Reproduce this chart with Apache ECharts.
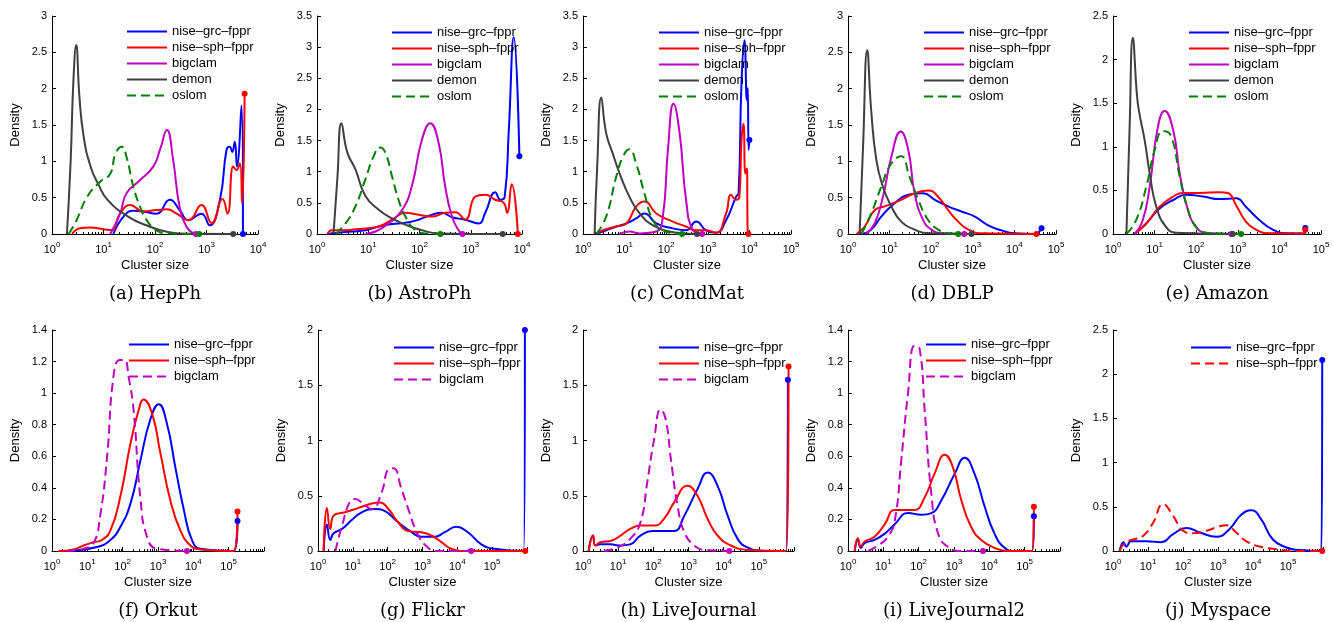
<!DOCTYPE html>
<html>
<head>
<meta charset="utf-8">
<script src="https://cdn.jsdelivr.net/npm/echarts@6/dist/echarts.min.js"></script>
<style>
html, body { margin: 0; padding: 0; background: #fff; }
#main { width: 1333px; height: 622px; }
</style>
</head>
<body>
<div id="main"></div>
<script>
// each point is [cluster size, density]

// (a) HepPh
var hepphGrc = [[15.5,0],[24.5,0.24],[38,0.32],[59,0.31],[107,0.28],[195,0.47],[300,0.33],[445,0.19],[800,0.28],[1150,0.12],[1820,0.47],[2450,1.16],[2830,1.2],[3150,1.13],[3540,1.27],[3900,0.93],[4780,1.77],[5100,0]];
var hepphSph = [[2.45,0],[3.5,0.08],[5.5,0.09],[10,0.065],[14.5,0.055],[21,0.28],[33,0.4],[59,0.31],[107,0.33],[170,0.34],[263,0.28],[445,0.19],[800,0.4],[1260,0.15],[2040,0.48],[2560,0.28],[3300,0.93],[3800,0.88],[4450,0.97],[4900,0.42],[5500,1.93]];
var hepphBigclam = [[13.5,0],[21,0.28],[28,0.56],[51,0.74],[93,0.93],[125,1.16],[170,1.43],[225,1.02],[300,0.38],[410,0.1],[550,0.01],[620,0]];
var hepphDemon = [[1.95,0],[2.3,1.0],[2.6,2.1],[2.95,2.6],[3.4,1.9],[4.1,1.35],[5.6,0.93],[8,0.68],[12,0.47],[30,0.24],[80,0.1],[170,0.03],[350,0.003],[3300,0]];
var hepphOslom = [[2.1,0],[3.0,0.19],[4.8,0.51],[8.6,0.72],[13.5,0.83],[17,1.1],[22.6,1.2],[28,1.06],[38,0.65],[51,0.38],[69,0.19],[107,0.05],[170,0.01],[720,0]];

// (b) AstroPh
var astroGrc = [[1.6,0],[2.6,0.02],[4.8,0.04],[8.8,0.06],[16,0.12],[29,0.16],[53,0.18],[96,0.23],[175,0.31],[275,0.34],[430,0.27],[780,0.23],[1420,0.17],[1920,0.34],[3000,0.67],[3800,0.55],[4600,0.6],[5500,1.63],[6900,3.16],[8900,1.25]];
var astroSph = [[1.6,0],[1.95,0.06],[3.1,0.06],[4.8,0.07],[8.8,0.09],[16,0.12],[29,0.23],[53,0.34],[96,0.31],[175,0.28],[316,0.34],[500,0.35],[780,0.23],[1230,0.6],[1920,0.63],[3000,0.55],[4400,0.5],[5100,0.34],[6300,0.8],[8300,0]];
var astroBigclam = [[8.8,0],[13.8,0.04],[25,0.17],[46,0.39],[71,0.77],[112,1.52],[162,1.78],[235,1.47],[316,0.77],[430,0.28],[580,0.06],[690,0]];
var astroDemon = [[2.1,0],[2.5,0.9],[3.0,1.78],[3.9,1.31],[5.6,1.04],[8.8,0.61],[16,0.39],[29,0.25],[53,0.15],[112,0.06],[235,0.01],[4200,0]];
var astroOslom = [[2.3,0],[3.6,0.17],[5.6,0.44],[8.8,0.88],[12.8,1.25],[17,1.39],[21.5,1.31],[29,0.93],[39,0.55],[53,0.28],[83,0.06],[130,0.01],[255,0]];

// (c) CondMat
var condGrc = [[2.1,0],[3.6,0.06],[6.3,0.12],[11,0.17],[19,0.25],[30,0.33],[58,0.17],[145,0.09],[300,0.06],[525,0.2],[910,0.06],[1580,0.02],[2750,0.22],[4800,0.6],[5500,0.65],[6450,2.42],[7600,3.11],[8700,2.15],[9100,2.34],[9600,1.35],[10000,1.51]];
var condSph = [[2.1,0],[3.0,0.06],[6.3,0.12],[11,0.17],[19,0.44],[30,0.52],[58,0.33],[145,0.2],[300,0.12],[525,0.06],[910,0.06],[1580,0.02],[2750,0.33],[3600,0.63],[4800,0.55],[5750,0.6],[6450,1.5],[7200,1.77],[8000,0.97],[8700,1.05],[9100,0.01],[9500,0]];
var condBigclam = [[7.6,0],[13,0.04],[23,0.01],[58,0.04],[83,0.28],[110,1.35],[150,2.09],[210,1.62],[300,0.55],[440,0.06],[730,0]];
var condDemon = [[1.9,0],[2.2,1.1],[2.75,2.19],[3.6,1.62],[5.2,1.29],[7.6,0.97],[13,0.6],[23,0.33],[48,0.14],[120,0.04],[300,0.01],[550,0]];
var condOslom = [[2.1,0],[3.6,0.28],[6.3,0.92],[9.1,1.24],[13,1.36],[19,1.13],[30,0.65],[48,0.22],[83,0.06],[145,0.01],[240,0]];

// (d) DBLP
var dblpGrc = [[2.1,0],[3.6,0.06],[6.3,0.24],[13,0.42],[28,0.54],[64,0.56],[123,0.47],[255,0.38],[535,0.31],[1120,0.24],[2350,0.12],[4900,0.05],[10000,0.01],[31000,0],[45000,0.08]];
var dblpSph = [[1.6,0],[2.5,0.1],[4.4,0.33],[7.6,0.38],[19,0.47],[40,0.56],[85,0.6],[148,0.51],[255,0.33],[445,0.17],[780,0.06],[1620,0.01],[34000,0]];
var dblpBigclam = [[2.75,0],[4.4,0.15],[6.9,0.51],[11,1.06],[18.5,1.41],[28,1.16],[40,0.56],[64,0.19],[102,0.06],[178,0.01],[620,0]];
var dblpDemon = [[1.9,0],[2.3,1.2],[2.9,2.53],[3.6,1.71],[4.8,1.02],[6.9,0.65],[11,0.38],[19,0.17],[40,0.06],[85,0.01],[930,0]];
var dblpOslom = [[2.1,0],[3.6,0.28],[6.3,0.65],[11,0.97],[19,1.07],[30,0.79],[49,0.47],[85,0.19],[148,0.06],[255,0.01],[445,0]];

// (e) Amazon
var amazonGrc = [[3.3,0],[6.3,0.12],[13,0.29],[28,0.39],[58,0.45],[145,0.43],[363,0.4],[910,0.41],[1580,0.31],[3300,0.16],[6900,0.05],[14500,0.01],[40000,0.005],[42000,0.07]];
var amazonSph = [[3.3,0],[6.3,0.12],[13,0.31],[28,0.43],[48,0.47],[120,0.47],[363,0.48],[575,0.47],[910,0.33],[1580,0.14],[2750,0.05],[4800,0.01],[40000,0.005],[42000,0.05]];
var amazonBigclam = [[3.3,0],[5.2,0.16],[7.6,0.54],[12,1.23],[17.4,1.41],[28,1.19],[40,0.7],[63,0.28],[100,0.08],[174,0.015],[700,0]];
var amazonDemon = [[2.1,0],[2.5,1.2],[3.0,2.25],[3.8,1.57],[4.4,1.36],[5.75,1.08],[7.6,0.7],[11,0.31],[19,0.08],[33,0.015],[760,0]];
var amazonOslom = [[2.1,0],[3.6,0.16],[6.3,0.54],[10,0.96],[16,1.18],[25,1.12],[40,0.66],[63,0.28],[100,0.08],[174,0.015],[1200,0]];

// (f) Orkut
var orkutGrc = [[2.6,0],[18.7,0.025],[45,0.07],[85,0.15],[166,0.3],[316,0.57],[600,0.83],[1050,0.93],[1780,0.81],[3100,0.53],[5400,0.26],[9100,0.07],[15800,0.015],[138000,0],[178000,0.19]];
var orkutSph = [[1.55,0],[4.1,0.01],[7.9,0.035],[15,0.055],[26,0.07],[45,0.13],[85,0.34],[166,0.68],[282,0.89],[390,0.96],[680,0.87],[1170,0.62],[2240,0.32],[4300,0.13],[8300,0.035],[15800,0.01],[138000,0],[178000,0.25]];
var orkutBigclam = [[2.6,0],[7.9,0.015],[15,0.05],[23,0.22],[36,0.59],[56,1.12],[83,1.21],[112,1.21],[148,1.1],[204,0.89],[316,0.34],[490,0.09],[930,0.015],[6600,0]];

// (g) Flickr
var flickrGrc = [[1.45,0],[1.8,0.24],[2.25,0.1],[2.8,0.16],[4.9,0.2],[9.3,0.28],[18,0.35],[43,0.38],[84,0.36],[200,0.26],[490,0.17],[930,0.13],[2240,0.13],[4350,0.17],[9300,0.22],[20000,0.17],[49000,0.06],[117000,0.02],[800000,0],[870000,2.0]];
var flickrSph = [[1.45,0],[1.8,0.39],[2.25,0.2],[2.8,0.32],[6.0,0.35],[14.5,0.39],[35,0.43],[60,0.44],[105,0.38],[200,0.26],[390,0.18],[930,0.17],[1800,0.14],[3500,0.08],[6700,0.02],[16000,0],[890000,0]];
var flickrBigclam = [[3.16,0],[4.9,0.23],[8.4,0.45],[11.7,0.47],[18,0.44],[35,0.38],[67,0.53],[105,0.74],[145,0.75],[250,0.56],[390,0.38],[760,0.14],[1450,0.03],[2240,0],[25000,0]];

// (h) LiveJournal
var ljGrc = [[1.45,0],[1.93,0.14],[2.25,0.05],[3.1,0.06],[6.0,0.06],[11.7,0.05],[22,0.06],[43,0.14],[93,0.18],[200,0.18],[390,0.18],[760,0.32],[1800,0.56],[3500,0.71],[6700,0.59],[13000,0.32],[25000,0.11],[49000,0.03],[145000,0],[600000,0],[670000,1.55]];
var ljSph = [[1.45,0],[1.93,0.14],[2.25,0.05],[3.1,0.08],[6.0,0.09],[11.7,0.14],[22,0.2],[43,0.23],[105,0.23],[200,0.29],[390,0.44],[930,0.59],[1800,0.5],[3500,0.29],[6700,0.14],[16000,0.05],[49000,0.01],[600000,0],[700000,1.67]];
var ljBigclam = [[3.9,0],[9.3,0.03],[22,0.11],[43,0.26],[67,0.62],[105,1.01],[162,1.28],[225,1.19],[316,0.83],[490,0.41],[760,0.17],[1450,0.05],[2800,0.01],[14500,0]];

// (i) LiveJournal2
var lj2Grc = [[1.55,0],[1.9,0.07],[2.3,0.02],[2.95,0.05],[5.6,0.07],[11,0.11],[21,0.17],[50,0.24],[120,0.23],[229,0.24],[436,0.32],[1050,0.49],[2000,0.59],[3800,0.49],[7400,0.28],[14000,0.11],[27000,0.02],[52000,0],[162000,0],[182000,0.22]];
var lj2Sph = [[1.55,0],[1.9,0.08],[2.3,0.03],[2.95,0.06],[5.6,0.09],[11,0.17],[21,0.26],[40,0.26],[77,0.26],[148,0.34],[282,0.49],[550,0.61],[930,0.53],[1620,0.32],[3100,0.15],[5900,0.07],[14000,0.02],[34000,0],[162000,0],[182000,0.28]];
var lj2Bigclam = [[3.7,0],[7.1,0.035],[13.5,0.09],[21,0.19],[32,0.57],[50,1.0],[77,1.3],[107,1.28],[148,0.89],[229,0.36],[355,0.11],[680,0.025],[1620,0],[6600,0]];

// (j) Myspace
var myspaceGrc = [[1.55,0],[2.0,0.1],[2.4,0.05],[3.3,0.11],[8.9,0.11],[24,0.1],[52,0.19],[125,0.26],[300,0.21],[900,0.16],[2150,0.25],[4600,0.41],[9000,0.46],[17000,0.36],[37000,0.13],[90000,0.04],[215000,0.01],[900000,0],[950000,2.16]];
var myspaceSph = [[1.55,0],[2.15,0.09],[3.7,0.13],[7.2,0.17],[14,0.32],[27,0.53],[52,0.4],[100,0.23],[195,0.2],[470,0.23],[1120,0.28],[1740,0.29],[3300,0.21],[6500,0.11],[15500,0.05],[47000,0.02],[140000,0],[950000,0]];

// panel captions and axis ranges
var captions = ['(a) HepPh', '(b) AstroPh', '(c) CondMat', '(d) DBLP', '(e) Amazon',
                '(f) Orkut', '(g) Flickr', '(h) LiveJournal', '(i) LiveJournal2', '(j) Myspace'];
var yMax  = [3, 3.5, 3.5, 3, 2.5, 1.4, 2, 2, 1.4, 2.5];
var yStep = [0.5, 0.5, 0.5, 0.5, 0.5, 0.2, 0.5, 0.5, 0.2, 0.5];
var xMax  = [1e4, 1e4, 1e5, 1e5, 1e5, 1e6, 1e6, 1e6, 1e6, 1e6];
var xTopLabel = [4, 4, 5, 5, 5, 5, 5, 5, 5, 5];   // highest power of ten that gets a label

var BLUE = '#0000ff', RED = '#ff0000', MAG = '#c000c0', GRAY = '#404040', GREEN = '#008000';
var GRC = 'nise–grc–fppr', SPH = 'nise–sph–fppr';

var panels = [
  [[GRC, hepphGrc, BLUE], [SPH, hepphSph, RED], ['bigclam', hepphBigclam, MAG], ['demon', hepphDemon, GRAY], ['oslom', hepphOslom, GREEN, true]],
  [[GRC, astroGrc, BLUE], [SPH, astroSph, RED], ['bigclam', astroBigclam, MAG], ['demon', astroDemon, GRAY], ['oslom', astroOslom, GREEN, true]],
  [[GRC, condGrc, BLUE], [SPH, condSph, RED], ['bigclam', condBigclam, MAG], ['demon', condDemon, GRAY], ['oslom', condOslom, GREEN, true]],
  [[GRC, dblpGrc, BLUE], [SPH, dblpSph, RED], ['bigclam', dblpBigclam, MAG], ['demon', dblpDemon, GRAY], ['oslom', dblpOslom, GREEN, true]],
  [[GRC, amazonGrc, BLUE], [SPH, amazonSph, RED], ['bigclam', amazonBigclam, MAG], ['demon', amazonDemon, GRAY], ['oslom', amazonOslom, GREEN, true]],
  [[GRC, orkutGrc, BLUE], [SPH, orkutSph, RED], ['bigclam', orkutBigclam, MAG, true]],
  [[GRC, flickrGrc, BLUE], [SPH, flickrSph, RED], ['bigclam', flickrBigclam, MAG, true]],
  [[GRC, ljGrc, BLUE], [SPH, ljSph, RED], ['bigclam', ljBigclam, MAG, true]],
  [[GRC, lj2Grc, BLUE], [SPH, lj2Sph, RED], ['bigclam', lj2Bigclam, MAG, true]],
  [[GRC, myspaceGrc, BLUE], [SPH, myspaceSph, RED, true]]
];

// layout: [left, top, width, height] of each axes box, and legend corner
var boxes = [
  [52, 16, 206, 218], [317, 16, 205, 218], [583, 16, 208, 218], [848, 16, 208, 218], [1113, 16, 208, 218],
  [52, 330, 212, 221], [318, 330, 209, 221], [583, 330, 211, 221], [848, 330, 212, 221], [1113, 330, 210, 221]
];
var legendAt = [[126, 25], [391, 26], [658, 26], [923, 26], [1188, 26],
                [128, 338], [393, 341], [658, 341], [925, 338], [1190, 341]];

var FONT = 'Liberation Sans';

function withEndDot(pts, color) {
  return pts.map(function (p, i) {
    if (i < pts.length - 1) return p;
    return { value: p, symbol: 'circle', symbolSize: 6, itemStyle: { color: color } };
  });
}

var option = {
  animation: false,
  backgroundColor: '#fff',
  textStyle: { fontFamily: FONT, color: '#000' },
  title: [], legend: [], grid: [], xAxis: [], yAxis: [], series: []
};

for (var k = 0; k < panels.length; k++) {
  var b = boxes[k];
  option.grid.push({ left: b[0], top: b[1], width: b[2], height: b[3], containLabel: false, outerBoundsMode: 'none' });

  option.title.push({
    text: captions[k], left: b[0] + b[2] / 2, textAlign: 'center',
    top: b[1] + b[3] + 51, padding: 0,
    textStyle: { fontFamily: 'DejaVu Serif', fontSize: 18, fontWeight: 'normal', color: '#000' }
  });

  (function (top) {
    option.xAxis.push({
      type: 'log', logBase: 10, min: 1, max: xMax[k], gridIndex: k,
      name: 'Cluster size', nameLocation: 'middle', nameGap: 25,
      nameTextStyle: { fontSize: 13, color: '#000', fontFamily: FONT },
      axisLine: { show: true, onZero: false, lineStyle: { color: '#000', width: 1 } },
      axisTick: { show: true, inside: true, length: 4, lineStyle: { color: '#000' } },
      minorTick: { show: true, splitNumber: 9, length: 2, lineStyle: { color: '#000' } },
      splitLine: { show: false },
      axisLabel: {
        margin: 7,
        formatter: function (v) {
          var e = Math.log(v) / Math.LN10;
          var n = Math.round(e);
          if (Math.abs(e - n) > 1e-6 || n > top) return '';
          return '{b|10}{s|' + n + '}';
        },
        rich: {
          b: { fontSize: 11, fontFamily: FONT, color: '#000', lineHeight: 14, verticalAlign: 'bottom' },
          s: { fontSize: 8, fontFamily: FONT, color: '#000', lineHeight: 8, verticalAlign: 'top' }
        }
      }
    });
  })(xTopLabel[k]);

  option.yAxis.push({
    type: 'value', min: 0, max: yMax[k], interval: yStep[k], gridIndex: k,
    name: 'Density', nameLocation: 'middle', nameGap: 30,
    nameTextStyle: { fontSize: 13, color: '#000', fontFamily: FONT },
    axisLine: { show: true, lineStyle: { color: '#000', width: 1 } },
    axisTick: { show: true, inside: true, length: 4, lineStyle: { color: '#000' } },
    splitLine: { show: false },
    axisLabel: { fontSize: 11, color: '#000', margin: 5 }
  });

  var names = [];
  panels[k].forEach(function (s) {
    var nm = s[0] + '#' + k;
    names.push(nm);
    option.series.push({
      type: 'line', name: nm, xAxisIndex: k, yAxisIndex: k,
      data: withEndDot(s[1], s[2]),
      symbol: 'none', smooth: 0.5,
      lineStyle: { color: s[2], width: 2, type: s[3] ? [9, 5] : 'solid' },
      itemStyle: { color: s[2] },
      emphasis: { disabled: true }
    });
  });

  option.legend.push({
    orient: 'vertical', left: legendAt[k][0], top: legendAt[k][1], padding: 0,
    itemWidth: 40, itemHeight: 14, itemGap: 3, selectedMode: false,
    itemStyle: { opacity: 0 },
    textStyle: { fontSize: 13, color: '#000', fontFamily: FONT },
    formatter: function (n) { return n.split('#')[0]; },
    data: names
  });
}

var chart = echarts.init(document.getElementById('main'));
chart.setOption(option);
</script>
</body>
</html>
